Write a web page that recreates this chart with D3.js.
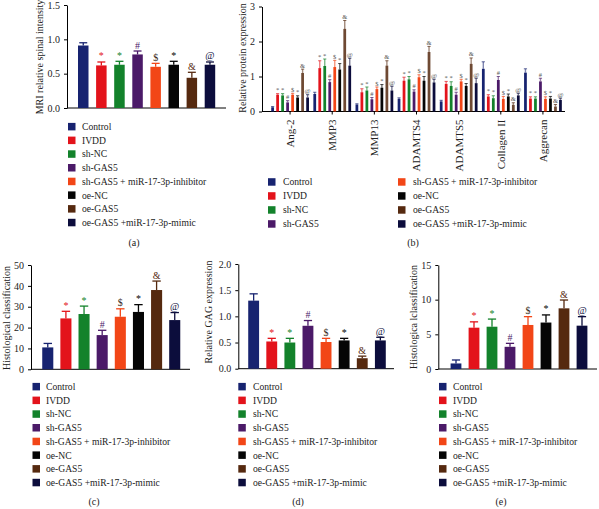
<!DOCTYPE html>
<html><head><meta charset="utf-8">
<script src="https://cdn.jsdelivr.net/npm/d3@7"></script>
<style>
body{margin:0;background:#fff;}
svg{font-family:"Liberation Serif","Times New Roman",serif;}
</style></head><body>
<svg id="chart" width="599" height="509"></svg>
<script>
// ---------- data ----------
const groups = ["Control","IVDD","sh-NC","sh-GAS5","sh-GAS5 + miR-17-3p-inhibitor","oe-NC","oe-GAS5","oe-GAS5 +miR-17-3p-mimic"];
const groupColors = ["#172370","#e3131b","#13822b","#4b1a68","#f24617","#050505","#55290f","#0c0d3c"];
const markers = ["", "*", "*", "#", "$", "*", "&", "@"];

// (a) MRI relative spinal intensity
const mriValues = [0.91,0.62,0.63,0.78,0.60,0.63,0.44,0.63];
const mriErrors = [0.04,0.05,0.05,0.05,0.05,0.05,0.08,0.04];
const mriTicks = [0,0.5,1.0,1.5];

// (b) Relative protein expression (one row per category, one value per group)
const proteinCategories = ["Ang-2","MMP3","MMP13","ADAMTS4","ADAMTS5","Collagen II","Aggrecan"];
const proteinValues = [
  [0.12,0.48,0.46,0.26,0.48,0.40,1.10,0.40],
  [0.50,1.24,1.30,0.84,1.27,1.20,2.36,1.31],
  [0.20,0.55,0.60,0.35,0.64,0.68,1.31,0.60],
  [0.36,0.88,0.92,0.57,0.98,0.88,1.70,0.83],
  [0.29,0.79,0.73,0.48,0.86,0.73,1.36,0.81],
  [1.22,0.43,0.38,0.90,0.36,0.43,0.19,0.46],
  [1.11,0.37,0.37,0.86,0.36,0.37,0.14,0.33]
];
const proteinErrors = [
  [0.02,0.03,0.05,0.05,0.04,0.05,0.11,0.08],
  [0.05,0.21,0.20,0.07,0.19,0.17,0.24,0.21],
  [0.02,0.10,0.10,0.05,0.06,0.09,0.14,0.12],
  [0.03,0.10,0.08,0.05,0.07,0.12,0.16,0.09],
  [0.03,0.07,0.12,0.07,0.06,0.07,0.17,0.14],
  [0.20,0.05,0.07,0.10,0.07,0.07,0.06,0.06],
  [0.11,0.05,0.05,0.09,0.06,0.06,0.06,0.05]
];
const proteinTicks = [0,1,2,3];

// (c) Histological classification
const histoValues = [10.5,24.4,26.5,16.4,25.2,27.5,38.0,23.6];
const histoErrors = [1.9,3.4,3.8,2.3,3.8,3.5,4.3,3.6];
const histoTicks = [0,10,20,30,40,50];

// (d) Relative GAG expression
const gagValues = [1.30,0.52,0.50,0.82,0.51,0.54,0.20,0.54];
const gagErrors = [0.13,0.06,0.08,0.10,0.07,0.04,0.04,0.06];
const gagTicks = [0,0.5,1.0,1.5,2.0];

// (e) Histologica lclassification
const histo2Values = [0.8,5.96,6.1,3.2,6.35,6.7,8.75,6.25];
const histo2Errors = [0.5,0.84,1.1,0.5,1.2,1.1,1.2,1.3];
const histo2Ticks = [0,5,10,15];

// ---------- drawing ----------
const svg = d3.select("#chart");
const FS = 10, LFS = 9.6;

function yAxis(g, y, ticks, fmt){
  g.call(d3.axisLeft(y).tickValues(ticks).tickFormat(fmt).tickSize(3).tickSizeOuter(0).tickPadding(4));
  g.select(".domain").attr("stroke","#000").attr("stroke-width",1);
  g.selectAll(".tick line").attr("stroke","#000");
  g.selectAll("text").attr("font-family","Liberation Serif, serif").attr("font-size",FS).attr("fill","#222");
}

function simplePanel(c){
  const y = d3.scaleLinear().domain([0,c.max]).range([c.y0,c.y1]);
  const x = d3.scaleBand().domain(groups).range([c.bandL,c.bandR]).paddingInner(c.pad).paddingOuter(c.pad/2);
  const g = svg.append("g");
  yAxis(g.append("g").attr("transform",`translate(${c.axisX},0)`), y, c.ticks, c.fmt);
  g.append("line").attr("x1",c.axisX).attr("x2",c.axisR).attr("y1",c.y0).attr("y2",c.y0).attr("stroke","#000");
  const bw = x.bandwidth();
  groups.forEach((gr,i)=>{
    const v = c.values[i], e = c.errors[i], cx = x(gr)+bw/2;
    const col = groupColors[i];
    g.append("line").attr("x1",cx).attr("x2",cx).attr("y1",y(v)).attr("y2",y(v+e)).attr("stroke",col).attr("stroke-width",1.3);
    g.append("line").attr("x1",cx-bw*0.38).attr("x2",cx+bw*0.38).attr("y1",y(v+e)).attr("y2",y(v+e)).attr("stroke",col).attr("stroke-width",1.3);
    g.append("rect").attr("x",x(gr)).attr("y",y(v)).attr("width",bw).attr("height",c.y0-y(v)).attr("fill",col);
    if(markers[i]) g.append("text").attr("x",cx).attr("y",y(v+e)-2.5).attr("text-anchor","middle")
      .attr("font-size",FS).attr("fill", i===4? "#3a2a20" : col).text(markers[i]);
  });
  g.append("text").attr("transform",`translate(${c.labelX},${c.labelY}) rotate(-90)`).attr("text-anchor","middle")
    .attr("font-size",FS).attr("fill","#222").text(c.label);
}

simplePanel({values:mriValues,errors:mriErrors,ticks:mriTicks,fmt:d3.format(".1f"),max:1.5,y0:108,y1:5,
  axisX:67,axisR:226,bandL:74.2,bandR:219,pad:0.42,label:"MRI relative spinal intensity",labelX:43,labelY:57});
simplePanel({values:histoValues,errors:histoErrors,ticks:histoTicks,fmt:d3.format("d"),max:50,y0:369.3,y1:265,
  axisX:31,axisR:190,bandL:38.7,bandR:183.8,pad:0.39,label:"Histological classification",labelX:10,labelY:318});
simplePanel({values:gagValues,errors:gagErrors,ticks:gagTicks,fmt:d3.format(".1f"),max:2,y0:368.7,y1:264,
  axisX:238.3,axisR:394,bandL:244.6,bandR:389.4,pad:0.4,label:"Relative GAG expression",labelX:212,labelY:312});
simplePanel({values:histo2Values,errors:histo2Errors,ticks:histo2Ticks,fmt:d3.format("d"),max:15,y0:369,y1:265,
  axisX:438.3,axisR:597,bandL:447,bandR:591,pad:0.4,label:"Histologica lclassification",labelX:417,labelY:317});

// (b) grouped bars
(function(){
  const y0 = 111.5, y1 = 6.5;
  const y = d3.scaleLinear().domain([0,3]).range([y0,y1]);
  const x0 = d3.scaleBand().domain(proteinCategories).range([269,564]);
  const x1 = d3.scaleBand().domain(groups).range([1.1, 41.1]).paddingInner(0.45).paddingOuter(0.225);
  const g = svg.append("g");
  yAxis(g.append("g").attr("transform","translate(262,0)"), y, proteinTicks, d3.format("d"));
  const xa = g.append("g").attr("transform",`translate(0,${y0})`).call(d3.axisBottom(x0).tickSize(3).tickSizeOuter(0));
  xa.select(".domain").remove();
  xa.selectAll(".tick line").attr("stroke","#000");
  xa.selectAll("text").attr("font-family","Liberation Serif, serif").attr("font-size",11).attr("fill","#222")
    .attr("transform","rotate(-90)").attr("text-anchor","end").attr("x",-8).attr("y",0).attr("dy","0.35em");
  g.append("line").attr("x1",262).attr("x2",565).attr("y1",y0).attr("y2",y0).attr("stroke","#000");
  const bw = x1.bandwidth();
  proteinCategories.forEach((cat,k)=>{
    groups.forEach((gr,i)=>{
      const v = proteinValues[k][i], e = proteinErrors[k][i];
      const bx = x0(cat)+x1(gr), cx = bx+bw/2, col = groupColors[i];
      g.append("line").attr("x1",cx).attr("x2",cx).attr("y1",y(v)).attr("y2",y(v+e)).attr("stroke",col).attr("stroke-width",1.4).attr("opacity",0.55);
      g.append("line").attr("x1",cx-1.6).attr("x2",cx+1.6).attr("y1",y(v+e)).attr("y2",y(v+e)).attr("stroke",col).attr("stroke-width",1).attr("opacity",0.7);
      g.append("rect").attr("x",bx).attr("y",y(v)).attr("width",bw).attr("height",y0-y(v)).attr("fill",col).attr("opacity", i===6?0.85:1);
      if(markers[i]) g.append("text").attr("x",cx).attr("y",y(v+e)-1.5).attr("text-anchor","middle")
        .attr("font-size",6.5).attr("fill","#555").text(markers[i]);
    });
  });
  g.append("text").attr("transform","translate(246,58) rotate(-90)").attr("text-anchor","middle")
    .attr("font-size",FS).attr("fill","#222").text("Relative protein expression");
})();

// ---------- legends ----------
function legend(items, sqX, txtX, yStart, step){
  const g = svg.append("g");
  items.forEach((idx,j)=>{
    const yy = yStart + j*step;
    g.append("rect").attr("x",sqX).attr("y",yy-3.8).attr("width",7.5).attr("height",7.5).attr("fill",groupColors[idx]);
    g.append("text").attr("x",txtX).attr("y",yy).attr("dy","0.35em").attr("font-size",LFS).attr("fill","#222").text(groups[idx]);
  });
}
const all = groups.map((d,i)=>i);
legend(all, 68, 82, 126.7, 13.7);
legend([0,1,2,3], 268, 283, 182, 14);
legend([4,5,6,7], 398, 413, 182, 14);
legend(all, 32.5, 46, 386.7, 13.7);
legend(all, 238.3, 253, 386.7, 13.7);
legend(all, 439, 453, 386.7, 13.7);

// panel labels
[["(a)",134,246],["(b)",413,246],["(c)",94,505],["(d)",298,505],["(e)",501,505]].forEach(d=>{
  svg.append("text").attr("x",d[1]).attr("y",d[2]).attr("text-anchor","middle").attr("font-size",FS).attr("fill","#222").text(d[0]);
});
</script>
</body></html>
